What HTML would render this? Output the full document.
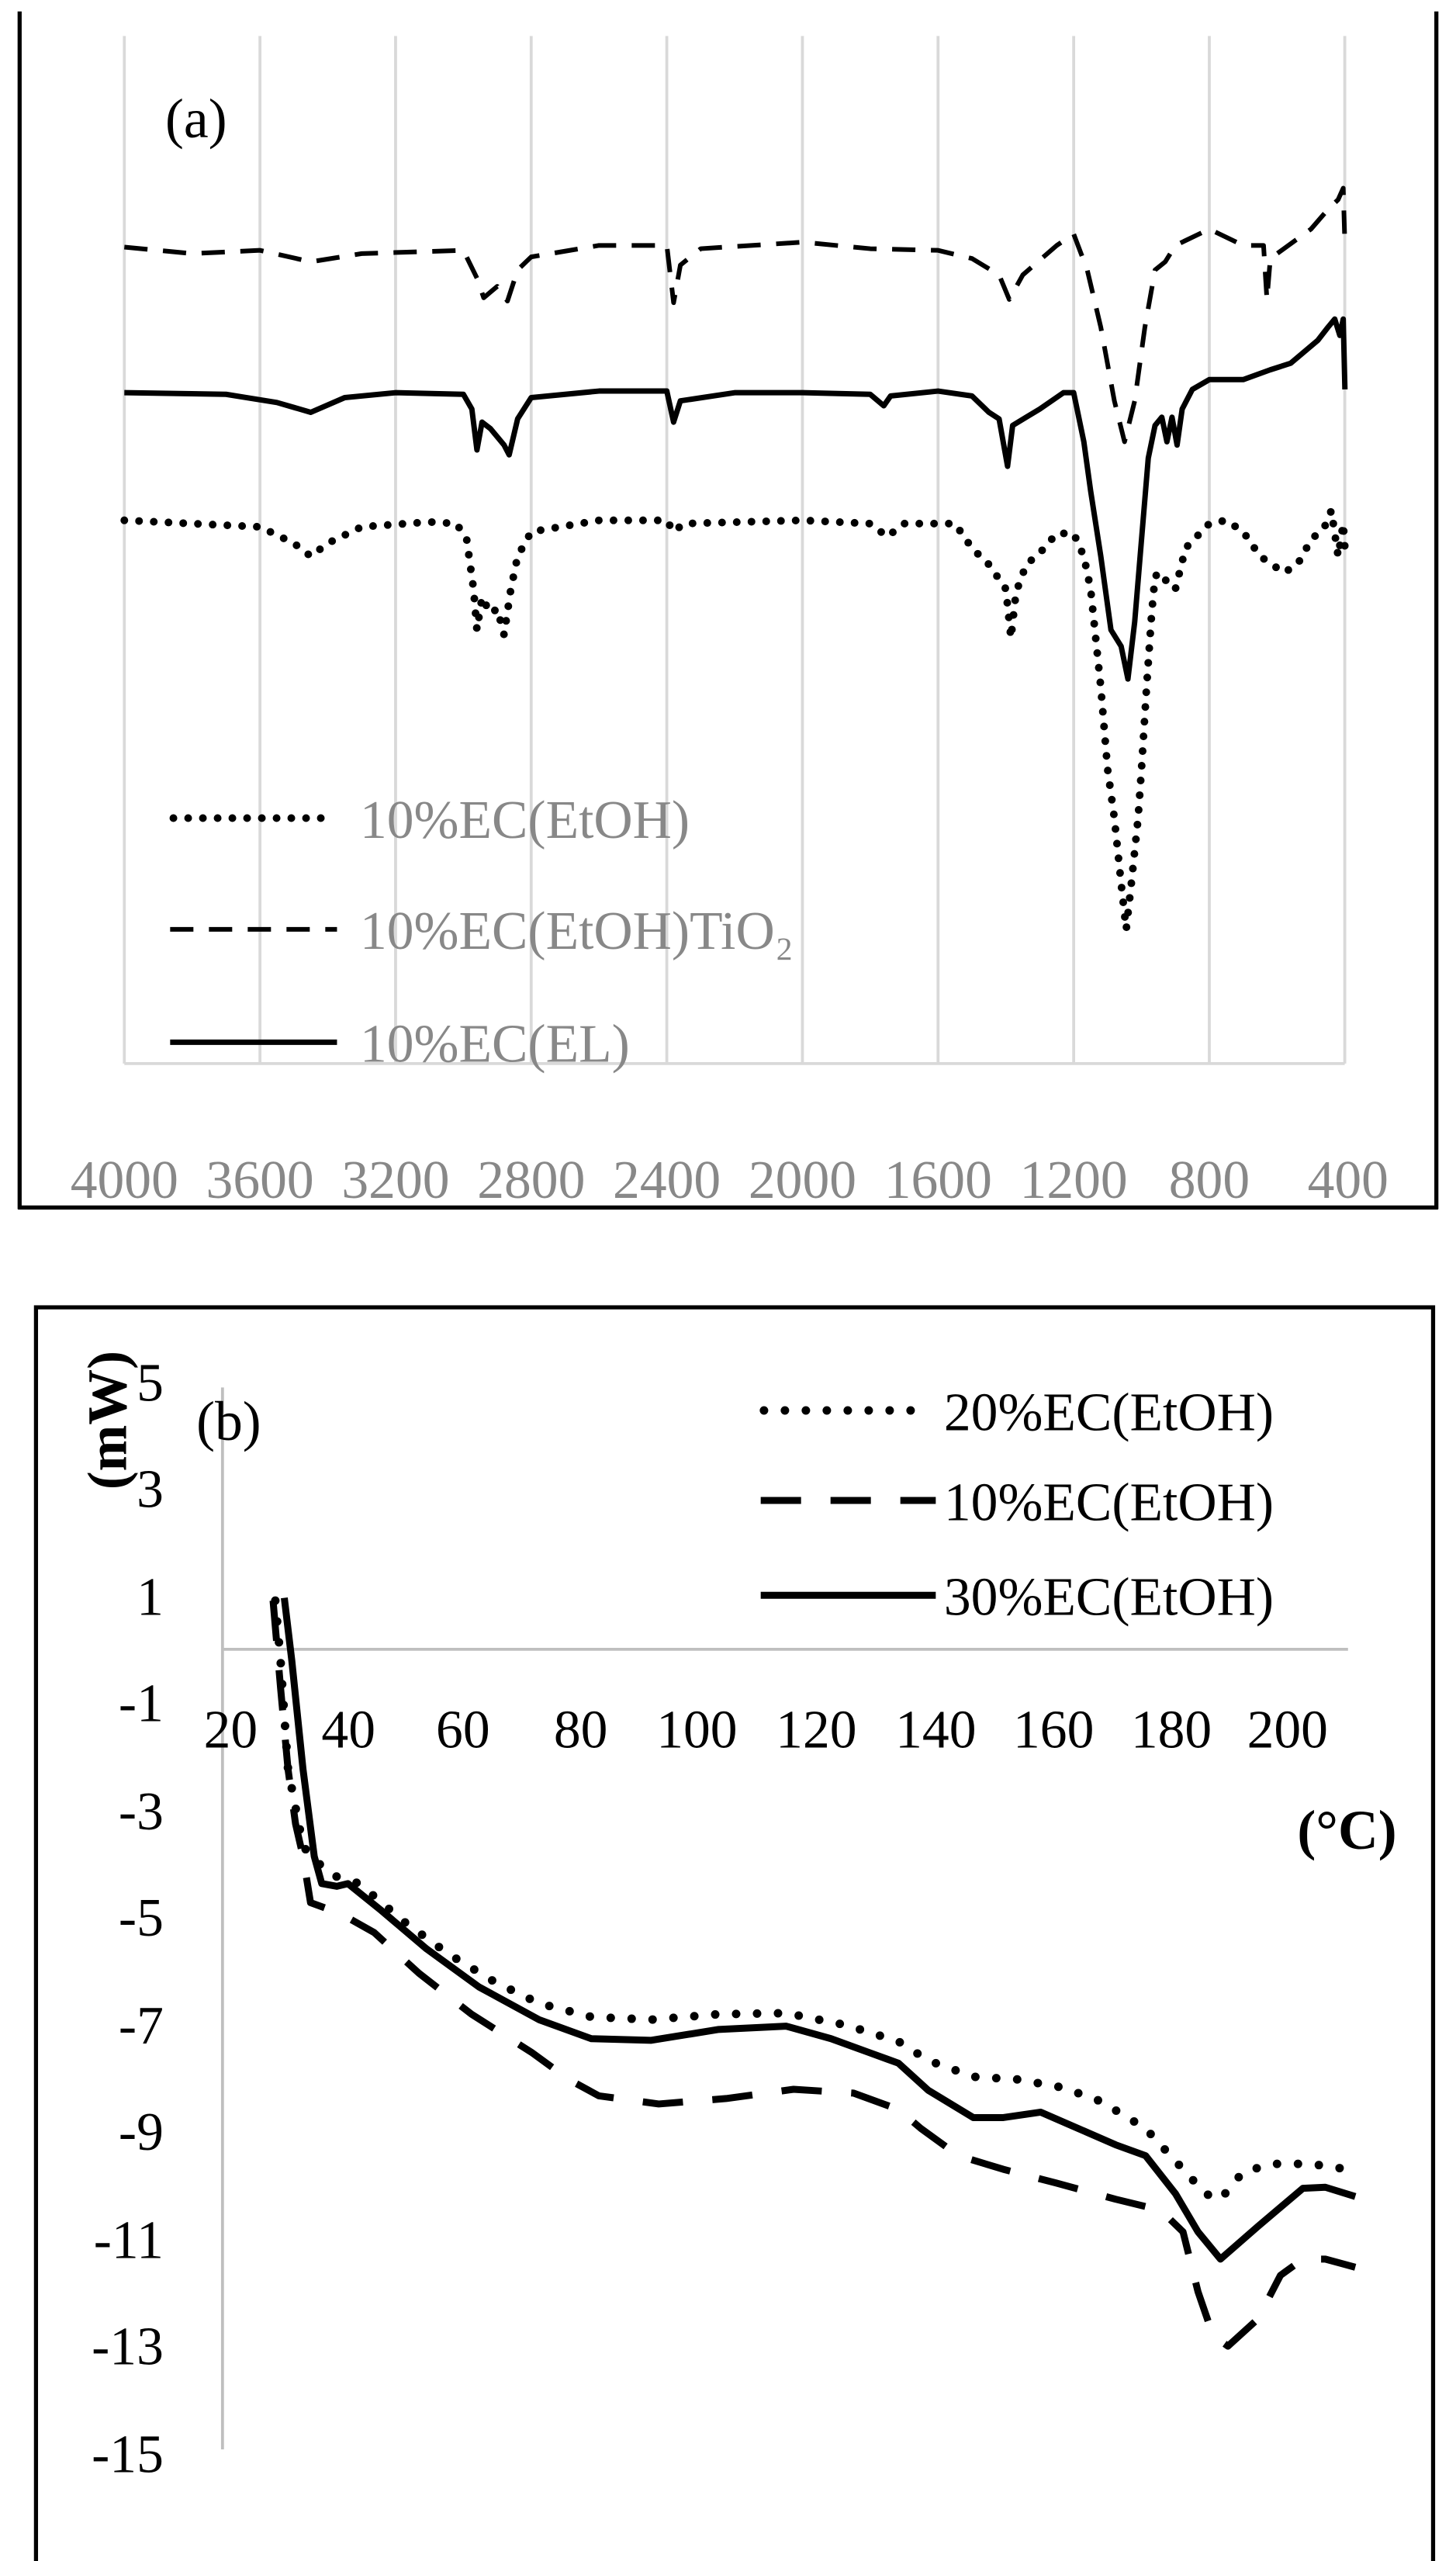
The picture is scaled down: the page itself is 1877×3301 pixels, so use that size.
<!DOCTYPE html>
<html><head><meta charset="utf-8"><style>
html,body{margin:0;padding:0;background:#fff;}
svg{display:block;}
text{font-family:"Liberation Serif",serif;}
</style></head><body>
<svg width="1877" height="3301" viewBox="0 0 890 1565.2" preserveAspectRatio="none" xmlns="http://www.w3.org/2000/svg">
<!-- Panel a frame -->
<g stroke="#000" stroke-width="2.5" fill="none">
<line x1="12" y1="7" x2="12" y2="739"/>
<line x1="878" y1="7" x2="878" y2="739"/>
<line x1="11" y1="738" x2="879" y2="738"/>
</g>
<g stroke="#d9d9d9" stroke-width="1.8">
<line x1="76" y1="22" x2="76" y2="650"/><line x1="158.9" y1="22" x2="158.9" y2="650"/><line x1="241.8" y1="22" x2="241.8" y2="650"/><line x1="324.7" y1="22" x2="324.7" y2="650"/><line x1="407.6" y1="22" x2="407.6" y2="650"/><line x1="490.5" y1="22" x2="490.5" y2="650"/><line x1="573.4" y1="22" x2="573.4" y2="650"/><line x1="656.3" y1="22" x2="656.3" y2="650"/><line x1="739.2" y1="22" x2="739.2" y2="650"/><line x1="822" y1="22" x2="822" y2="650"/>
<line x1="76" y1="650" x2="822" y2="650"/>
</g>
<g fill="#888" font-size="33" text-anchor="middle">
<text x="76" y="732">4000</text><text x="158.9" y="732">3600</text><text x="241.8" y="732">3200</text><text x="324.7" y="732">2800</text><text x="407.6" y="732">2400</text><text x="490.5" y="732">2000</text><text x="573.4" y="732">1600</text><text x="656.3" y="732">1200</text><text x="739.2" y="732">800</text><text x="824" y="732">400</text>
</g>
<text x="101" y="84" font-size="34" fill="#000">(a)</text>
<g transform="translate(905,0) scale(-0.20725,1)" fill="none" stroke="#000" stroke-linejoin="round">
<path vector-effect="non-scaling-stroke" stroke-width="6" stroke-dasharray="30 20" d="M4000,151 L3800,155 L3600,153 L3450,160 L3300,155 L3000,153 L2960,170 L2940,182 L2900,175 L2870,184 L2840,165 L2800,157 L2600,150 L2400,150 L2380,185 L2360,162 L2300,152 L2000,148 L1800,152 L1600,153 L1500,158 L1420,168 L1390,183 L1350,168 L1250,150 L1200,143 L1160,165 L1120,200 L1080,245 L1050,270 L1020,245 L990,200 L960,165 L930,160 L900,150 L800,140 L700,150 L640,150 L630,183 L620,158 L500,140 L450,128 L420,122 L405,115 L400,150"/>
<path vector-effect="non-scaling-stroke" stroke-width="7" d="M4000,240 L3700,241 L3550,246 L3450,252 L3350,243 L3200,240 L3000,241 L2975,250 L2960,275 L2945,258 L2920,262 L2880,272 L2865,278 L2840,256 L2800,243 L2600,239 L2400,239 L2380,258 L2360,245 L2200,240 L2000,240 L1800,241 L1760,248 L1740,242 L1600,239 L1500,242 L1450,252 L1420,256 L1395,285 L1380,260 L1340,255 L1300,250 L1230,240 L1200,240 L1170,270 L1150,300 L1120,340 L1090,385 L1060,395 L1040,415 L1020,380 L1000,330 L980,280 L960,260 L940,255 L925,270 L910,255 L895,272 L880,250 L850,238 L800,232 L700,232 L620,226 L560,222 L520,215 L480,208 L450,200 L430,195 L415,205 L405,195 L400,238"/>
<path vector-effect="non-scaling-stroke" stroke-width="10" stroke-linecap="round" stroke-dasharray="0 19" d="M4000,318 L3800,320 L3600,322 L3500,332 L3450,340 L3400,332 L3300,322 L3100,319 L3020,320 L2990,330 L2970,360 L2960,385 L2945,365 L2920,375 L2900,372 L2880,388 L2860,360 L2840,340 L2800,325 L2600,318 L2400,318 L2380,325 L2350,320 L2000,318 L1800,320 L1750,328 L1700,320 L1550,320 L1500,335 L1450,345 L1400,360 L1385,390 L1370,362 L1340,345 L1300,338 L1250,326 L1200,326 L1170,340 L1150,360 L1120,420 L1100,470 L1080,500 L1060,540 L1045,568 L1030,540 L1010,500 L1000,470 L985,420 L970,375 L960,352 L940,350 L920,358 L900,360 L870,335 L800,320 L750,318 L700,325 L650,340 L580,350 L540,345 L500,330 L460,322 L440,312 L420,340 L405,320 L400,335"/>
</g>
<!-- legend a -->
<g fill="none" stroke="#000">
<line vector-effect="non-scaling-stroke" x1="106" y1="500" x2="204" y2="500" stroke-width="10" stroke-linecap="round" stroke-dasharray="0 19"/>
<line vector-effect="non-scaling-stroke" x1="104" y1="568" x2="206" y2="568" stroke-width="6" stroke-dasharray="30 20"/>
<line vector-effect="non-scaling-stroke" x1="104" y1="637" x2="206" y2="637" stroke-width="7"/>
</g>
<g fill="#888" font-size="33">
<text x="220" y="512">10%EC(EtOH)</text>
<text x="220" y="580">10%EC(EtOH)TiO₂</text>
<text x="220" y="649">10%EC(EL)</text>
</g>

<!-- Panel b -->
<rect x="22" y="799" width="854" height="782" fill="none" stroke="#000" stroke-width="2.5"/>
<g stroke="#bfbfbf" stroke-width="1.8">
<line x1="136" y1="848" x2="136" y2="1497"/>
<line x1="136" y1="1008" x2="824" y2="1008"/>
</g>
<g fill="#000" font-size="33" text-anchor="end">
<text x="100" y="856">5</text><text x="100" y="921">3</text><text x="100" y="987">1</text><text x="100" y="1052">-1</text><text x="100" y="1118">-3</text><text x="100" y="1183">-5</text><text x="100" y="1249">-7</text><text x="100" y="1314">-9</text><text x="100" y="1380">-11</text><text x="100" y="1445">-13</text><text x="100" y="1511">-15</text>
</g>
<g fill="#000" font-size="33" text-anchor="middle">
<text x="141" y="1068">20</text><text x="213" y="1068">40</text><text x="283" y="1068">60</text><text x="355" y="1068">80</text><text x="426" y="1068">100</text><text x="499" y="1068">120</text><text x="572" y="1068">140</text><text x="644" y="1068">160</text><text x="716" y="1068">180</text><text x="787" y="1068">200</text>
</g>
<text x="793" y="1130" font-size="34" font-weight="bold">(°C)</text>
<text transform="translate(77,868) rotate(-90)" font-size="34" font-weight="bold" text-anchor="middle">(mW)</text>
<text x="120" y="880" font-size="34">(b)</text>
<g transform="translate(128,948.3) scale(0.4578,0.3326)" fill="none" stroke="#000" stroke-linejoin="round">
<path vector-effect="non-scaling-stroke" stroke-width="11" stroke-linecap="round" stroke-dasharray="0 27" d="M88,90 L95,200 L105,400 L125,540 L135,560 L165,595 L200,610 L260,680 L320,740 L380,790 L440,830 L510,855 L590,860 L680,850 L770,848 L850,870 L920,900 L960,935 L1020,965 L1080,970 L1140,985 L1190,1010 L1250,1060 L1290,1120 L1330,1180 L1350,1190 L1380,1140 L1420,1125 L1470,1125 L1520,1135"/>
<path vector-effect="non-scaling-stroke" stroke-width="9" d="M100,85 L110,200 L125,400 L140,560 L150,610 L170,615 L185,610 L230,660 L290,730 L360,800 L440,860 L510,895 L590,898 L680,878 L770,872 L830,895 L880,920 L920,940 L960,990 L1020,1040 L1060,1040 L1110,1030 L1160,1060 L1210,1090 L1250,1110 L1290,1180 L1320,1250 L1350,1300 L1400,1240 L1460,1170 L1490,1168 L1530,1185"/>
<path vector-effect="non-scaling-stroke" stroke-width="9" stroke-dasharray="52 38" d="M85,90 L95,250 L105,400 L115,500 L125,560 L135,645 L175,665 L220,700 L280,775 L350,850 L430,920 L480,970 L520,1000 L600,1015 L690,1005 L780,988 L860,995 L920,1025 L950,1060 L1000,1110 L1060,1135 L1130,1160 L1210,1190 L1270,1210 L1300,1250 L1320,1360 L1340,1440 L1360,1460 L1400,1410 L1430,1330 L1460,1300 L1490,1300 L1530,1315"/>
</g>
<g fill="none" stroke="#000">
<line vector-effect="non-scaling-stroke" x1="467" y1="862" x2="568" y2="862" stroke-width="11" stroke-linecap="round" stroke-dasharray="0 27"/>
<line vector-effect="non-scaling-stroke" x1="465" y1="917" x2="572" y2="917" stroke-width="9" stroke-dasharray="52 38"/>
<line vector-effect="non-scaling-stroke" x1="465" y1="975" x2="572" y2="975" stroke-width="9"/>
</g>
<g fill="#000" font-size="33">
<text x="577" y="874">20%EC(EtOH)</text>
<text x="577" y="929">10%EC(EtOH)</text>
<text x="577" y="987">30%EC(EtOH)</text>
</g>
</svg>
</body></html>
